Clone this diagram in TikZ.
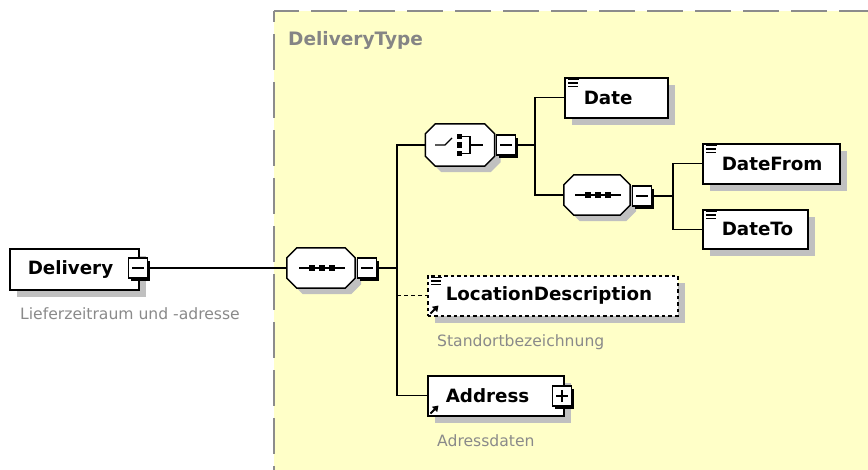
\documentclass[tikz,border=0pt]{standalone}
\usepackage{fontspec}
\usetikzlibrary{shadows,arrows.meta}
\newfontfamily\dvs{DejaVu Sans}
\definecolor{bgyellow}{HTML}{FFFFC8}
\definecolor{framegray}{HTML}{8C8C8C}
\definecolor{shadowgray}{HTML}{C0C0C0}
\definecolor{notegray}{HTML}{8A8A8A}
\definecolor{titlegray}{HTML}{858585}
\newcommand\octpath[3]{([shift={(#2+10pt,#3)}]#1.north west) -- ([shift={(#2-10pt,#3)}]#1.north east) -- ([shift={(#2,#3-10pt)}]#1.north east) -- ([shift={(#2,#3+10pt)}]#1.south east) -- ([shift={(#2-10pt,#3)}]#1.south east) -- ([shift={(#2+10pt,#3)}]#1.south west) -- ([shift={(#2,#3+10pt)}]#1.south west) -- ([shift={(#2,#3-10pt)}]#1.north west) -- cycle}
\newcommand\octa[1]{%
  \fill[shadowgray] \octpath{#1}{6pt}{-6pt};
  \filldraw[fill=white, draw=black, line width=1.5pt] \octpath{#1}{0pt}{0pt};}
\newcommand\seqsym[1]{%
  \draw[line width=1.3pt] ([xshift=-22pt]#1.center) -- ([xshift=24pt]#1.center);
  \foreach \dx in {-9,1,11}{\fill ([xshift=\dx pt]#1.center) +(-2.7pt,-2.7pt) rectangle +(2.7pt,2.7pt);}}
\newcommand\choicesym[1]{%
  \draw[line width=1.3pt] ([xshift=-25pt]#1.center) -- ([xshift=-15pt]#1.center) -- ([shift={(-8pt,7pt)}]#1.center);
  \foreach \dy in {-8.5,0,8.5}{\fill ([shift={(-0.5pt,\dy pt)}]#1.center) +(-2.7pt,-2.7pt) rectangle +(2.7pt,2.7pt);}
  \draw[line width=1.3pt] ([shift={(2pt,8.5pt)}]#1.center) -- ([shift={(10pt,8.5pt)}]#1.center) -- ([shift={(10pt,-8.5pt)}]#1.center) -- ([shift={(2pt,-8.5pt)}]#1.center);
  \draw[line width=1.3pt] ([xshift=10pt]#1.center) -- ([xshift=23pt]#1.center);}
\newcommand\simpleicon[1]{%
  \draw[line width=1.4pt] ([shift={(4pt,-2.5pt)}]#1.north west) -- ++(11pt,0pt);
  \foreach \dy in {6,9.5}{\draw[line width=1.4pt] ([shift={(4pt,-\dy pt)}]#1.north west) -- ++(10pt,0pt);}}
\newcommand\reficon[1]{%
  \draw[line width=1.9pt,-{Triangle[length=5.5pt,width=7pt]}] ([shift={(3.5pt,3pt)}]#1.south west) -- ([shift={(11.5pt,11pt)}]#1.south west);}
\begin{document}
\begin{tikzpicture}[x=1pt,y=-1pt,
  frameline/.style={draw=framegray, line width=2.2pt, dash pattern=on 36pt off 12pt},
  elem/.style={draw=black, line width=1.5pt, fill=white, anchor=north west, minimum height=40pt,
    inner xsep=0pt, inner ysep=0pt, align=left, text=black,
    font=\dvs\bfseries\fontsize{18.3}{21}\selectfont,
    drop shadow={shadow xshift=7pt, shadow yshift=-7pt, fill=shadowgray, opacity=1}},
  optelem/.style={elem, dash pattern=on 3.5pt off 3pt},
  comp/.style={rectangle, inner sep=0pt, minimum width=68pt, minimum height=40pt},
  mbox/.style={draw=black, line width=1.2pt, fill=white, minimum width=19pt, minimum height=20pt,
    inner sep=0pt, drop shadow={shadow xshift=2.5pt, shadow yshift=-2.5pt, fill=black, opacity=1},
    path picture={\draw[line width=1.3pt] ([xshift=-6pt]path picture bounding box.center) -- ([xshift=6pt]path picture bounding box.center);}},
  pbox/.style={mbox,
    path picture={\draw[line width=1.3pt] ([xshift=-6pt]path picture bounding box.center) -- ([xshift=6pt]path picture bounding box.center);
      \draw[line width=1.3pt] ([yshift=-6pt]path picture bounding box.center) -- ([yshift=6pt]path picture bounding box.center);}},
  conn/.style={draw=black, line width=1.4pt},
  note/.style={anchor=base west, inner sep=0pt, text=notegray, font=\dvs\fontsize{15.6}{18}\selectfont},
  ]
\useasboundingbox (0,0) rectangle (868,469);
\clip (0,0) rectangle (868,469);
\fill[white] (0,0) rectangle (868,469);
% complex type frame
\fill[bgyellow] (274,11) rectangle (900,500);
\draw[frameline, dash phase=25pt] (274,11) -- (274,500);
\draw[frameline, dash phase=11pt] (274,11) -- (900,11);
\node[anchor=base west, inner sep=0pt, text=titlegray, font=\dvs\bfseries\fontsize{18.5}{21}\selectfont] (typetitle) at (288,45) {DeliveryType};

% root element
\node[elem, text width=129pt, minimum height=41pt] (delivery) at (9,248) {\hspace*{18pt}Delivery};
\node[mbox] (deliverym) at (138,268) {};
\node[note] (deliverynote) at (20,319) {Lieferzeitraum und -adresse};

% main sequence
\node[comp] (seq1) at (321,268) {};
\octa{seq1}
\seqsym{seq1}
\node[mbox] (seq1m) at (367,268) {};

% choice
\node[comp, minimum width=69pt, minimum height=42pt] (choice) at (460,145) {};
\octa{choice}
\choicesym{choice}
\node[mbox] (choicem) at (506,145) {};

% Date
\node[elem, text width=103pt] (date) at (564,77) {\hspace*{19pt}Date};
\simpleicon{date}

% inner sequence
\node[comp, minimum width=66pt] (seqin) at (597,195) {};
\octa{seqin}
\seqsym{seqin}
\node[mbox] (seqinm) at (642,196) {};

% DateFrom / DateTo
\node[elem, text width=137pt] (datefrom) at (702,143) {\hspace*{19pt}DateFrom};
\simpleicon{datefrom}
\node[elem, text width=105pt, minimum height=39pt] (dateto) at (702,209) {\hspace*{19pt}DateTo};
\simpleicon{dateto}

% LocationDescription
\node[optelem, text width=250pt] (locdesc) at (427,275) {\hspace*{18pt}LocationDescription};
\simpleicon{locdesc}
\reficon{locdesc}
\node[note] (locdescnote) at (437,346) {Standortbezeichnung};

% Address
\node[elem, text width=136pt] (address) at (427,375) {\hspace*{18pt}Address};
\reficon{address}
\node[pbox] (addressp) at (562,396) {};
\node[note] (addressnote) at (437,446) {Adressdaten};

% connectors
\draw[conn] (deliverym.east) -- (seq1.west);
\coordinate (t1) at ([xshift=20pt]seq1m.east);
\draw[conn] (seq1m.east) -- (t1);
\draw[conn] (t1) |- (choice.west);
\draw[conn] (t1) |- (address.west);
\draw[conn, dash pattern=on 4pt off 3pt] (t1 |- locdesc.west) -- (locdesc.west);

\coordinate (t2) at ([xshift=19pt]choicem.east);
\draw[conn] (choicem.east) -- (t2);
\draw[conn] (t2) |- (date.west);
\draw[conn] (t2) |- (seqin.west);

\coordinate (t3) at ([xshift=21pt]seqinm.east);
\draw[conn] (seqinm.east) -- (t3);
\draw[conn] (t3) |- (datefrom.west);
\draw[conn] (t3) |- (dateto.west);
\end{tikzpicture}
\end{document}
